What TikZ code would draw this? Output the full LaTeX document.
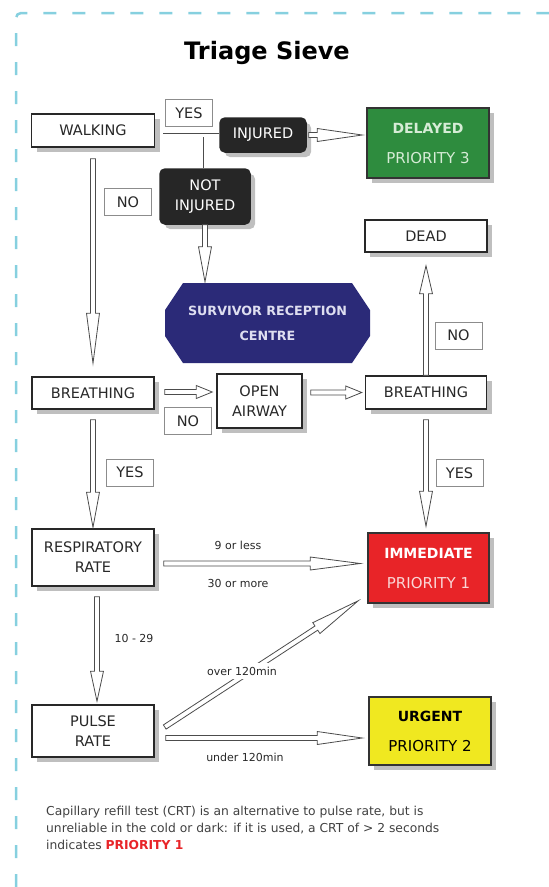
\documentclass[tikz,border=0pt]{standalone}
\usepackage{fontspec}
\setmainfont{DejaVu Sans}
\usetikzlibrary{calc}
\usetikzlibrary{shadows}

\definecolor{framecyan}{RGB}{134,208,223}
\definecolor{boxtext}{RGB}{40,40,40}
\definecolor{delayedgreen}{RGB}{46,140,62}
\definecolor{delayedtext}{RGB}{214,236,214}
\definecolor{srcblue}{RGB}{43,42,120}
\definecolor{srctext}{RGB}{222,222,240}
\definecolor{immred}{RGB}{232,36,40}
\definecolor{immtext}{RGB}{250,214,214}
\definecolor{urgyellow}{RGB}{240,232,32}
\definecolor{darkfill}{RGB}{38,38,38}

% hollow arrow: #1 head length, #2 start, #3 tip
\newcommand{\fatarrow}[3][20]{%
  \draw[arrowline] let \p1=(#2), \p2=(#3),
    \n1={atan2(\y2-\y1,\x2-\x1)}, \n2={veclen(\x2-\x1,\y2-\y1)} in
    [shift={(\p1)}, rotate=\n1]
    (0pt,-2.5pt) -- ({(\n2-#1)*1pt},-2.5pt) -- ({(\n2-#1)*1pt},-6.5pt)
    -- ({\n2*1pt},0pt) -- ({(\n2-#1)*1pt},6.5pt) -- ({(\n2-#1)*1pt},2.5pt)
    -- (0pt,2.5pt) -- cycle;}

\begin{document}
\begin{tikzpicture}[x=1pt, y=-1pt,
  box/.style={draw=boxtext, line width=1.5pt, fill=white, text=boxtext, inner sep=0pt, align=center,
    font=\fontsize{14.5}{20}\selectfont,
    drop shadow={shadow xshift=5pt, shadow yshift=-5pt, fill=black!25, opacity=1}},
  prio/.style={box, draw=black!80, font=\fontsize{15}{30}\selectfont},
  dark/.style={box, draw=darkfill, fill=darkfill, text=white, rounded corners=5pt},
  tag/.style={draw=black!45, line width=0.6pt, fill=white, text=boxtext, inner sep=0pt,
    minimum width=47pt, minimum height=27pt, font=\fontsize{14.5}{16}\selectfont},
  small/.style={text=boxtext, font=\fontsize{11}{13}\selectfont},
  arrowline/.style={draw=black!70, fill=white, line width=0.8pt},
  shaft/.style={draw=black!70, double=white, double distance=3pt, line width=0.8pt},
  frame/.style={draw=framecyan, line width=2.5pt, dash pattern=on 13pt off 16pt, rounded corners=5pt}]

\useasboundingbox (0,0) rectangle (549,887);
\draw[frame] (16,887) -- (16,13) -- (549,13);

\node[font=\fontsize{24}{28}\selectfont\bfseries] (title) at (267,53) {Triage Sieve};

\node[box, minimum width=123pt, minimum height=33pt] (walk) at (93,130.5) {WALKING};
\node[tag] (yes1) at (189,113) {YES};
\node[dark, minimum width=86pt, minimum height=34pt] (inj) at (263,135) {INJURED};
\node[prio, fill=delayedgreen, text=delayedtext, minimum width=122pt, minimum height=70pt] (dly) at (428,143) {{\fontsize{14}{30}\selectfont\bfseries DELAYED}\\PRIORITY 3};
\node[tag] (no1) at (128,202) {NO};
\node[dark, minimum width=90pt, minimum height=55pt] (ni) at (205,196.5) {NOT\\INJURED};
\node[box, minimum width=122pt, minimum height=32pt] (dead) at (426,236) {DEAD};

\fill[srcblue] (183,283) -- (352,283) -- (370,310) -- (370,336) -- (352,363) -- (183,363) -- (165,336) -- (165,310) -- cycle;
\node[text=srctext, align=center, minimum width=205pt, minimum height=80pt, font=\fontsize{12.7}{25}\selectfont\bfseries] (src) at (267.5,323) {SURVIVOR RECEPTION\\CENTRE};

\node[box, minimum width=122pt, minimum height=32pt] (brl) at (93,393) {BREATHING};
\node[tag] (no2) at (188,421) {NO};
\node[box, minimum width=85pt, minimum height=54pt] (oa) at (259.5,401) {OPEN\\AIRWAY};
\node[box, minimum width=121pt, minimum height=33pt] (brr) at (426,392.5) {BREATHING};
\node[tag] (no3) at (458.5,335.5) {NO};
\node[tag] (yes2) at (130,472.5) {YES};
\node[tag] (yes3) at (459.5,473) {YES};

\node[box, minimum width=122pt, minimum height=57pt] (resp) at (93,557.5) {RESPIRATORY\\RATE};
\node[prio, fill=immred, text=white, minimum width=121pt, minimum height=70pt] (imm) at (428.5,568) {{\fontsize{14}{30}\selectfont\bfseries IMMEDIATE}\\{\color{immtext}PRIORITY 1}};
\node[box, minimum width=122pt, minimum height=52pt] (pulse) at (93,731) {PULSE\\RATE};
\node[prio, fill=urgyellow, text=black, minimum width=122pt, minimum height=68pt] (urg) at (430,731) {{\fontsize{14}{30}\selectfont\bfseries URGENT}\\PRIORITY 2};

% connectors
\draw[shaft] ($(walk.east |- inj.west)+(8,0)$) -- (inj.west) (ni.north |- inj.west) -- (ni.north);
\fatarrow[45]{$(inj.east)+(2,0)$}{$(inj.east -| dly.west)+(-4,0)$}
\fatarrow[50]{$(walk.south)+(0,11)$}{$(brl.north)+(0,-13)$}
\fatarrow[35]{ni.south}{$(ni.south |- src.north)+(0,-1)$}
\fatarrow[16]{$(brl.east)+(10,-1)$}{$(brl.east -| oa.west)+(-4,-1)$}
\fatarrow[16]{$(oa.east |- brr.west)+(8,0)$}{$(brr.west)+(-3,0)$}
\fatarrow[28]{brr.north}{$(dead.south)+(0,13)$}
\fatarrow[35]{$(brl.south)+(0,10)$}{$(resp.north)+(0,-1)$}
\fatarrow[35]{$(brr.south)+(0,10)$}{$(brr.south |- imm.north)+(0,-6)$}
\fatarrow[50]{$(resp.east)+(9,6)$}{$(resp.east -| imm.west)+(-7,6)$}
\fatarrow[30]{$(resp.south)+(4,10)$}{$(pulse.north)+(4,-3)$}
\fatarrow[50]{$(pulse.east)+(10,-4)$}{$(imm.south west)+(-9,-3)$}
\fatarrow[45]{$(pulse.east)+(11,7)$}{$(pulse.east -| urg.west)+(-6,7)$}

\node[small] (less) at (238,545) {9 or less};
\node[small] (more) at (238,583) {30 or more};
\node[small] (mid) at (134,638) {10 - 29};
\node[small, fill=white] (over) at (242,671) {over 120min};
\node[small] (under) at (245,757) {under 120min};

\node[anchor=north west, align=left, text=black!75, inner sep=0pt, font=\fontsize{12.3}{17}\selectfont] (crt) at (46,806)
  {Capillary refill test (CRT) is an alternative to pulse rate, but is\\
   unreliable in the cold or dark: if it is used, a CRT of > 2 seconds\\
   indicates {\color{immred}\bfseries PRIORITY 1}};
\end{tikzpicture}
\end{document}
